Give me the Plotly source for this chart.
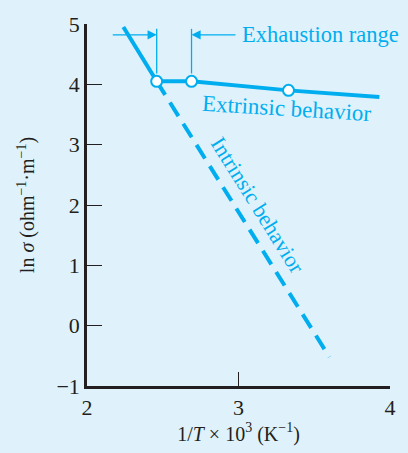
import plotly.graph_objects as go

# Data
intrinsic_solid_x = [2.24, 2.46]
intrinsic_solid_y = [4.95, 4.05]
intrinsic_dash_x = [2.46, 3.60]
intrinsic_dash_y = [4.05, -0.52]
extrinsic_x = [2.46, 2.69, 3.33, 3.93]
extrinsic_y = [4.05, 4.05, 3.90, 3.79]
marker_x = [2.46, 2.69, 3.33]
marker_y = [4.05, 4.05, 3.90]
x_ticks = [2, 3, 4]
y_ticks = [-1, 0, 1, 2, 3, 4, 5]

# Exhaustion range bracket
bracket_x = [2.46, 2.69]
bracket_y_top = 4.92
bracket_y_bot = 4.18
arrow_y = 4.82
arrow_left_tail = 2.16
arrow_right_tail = 2.99

CYAN = "#00aeef"
BG = "#dff2fb"
INK = "#231f20"
SERIF = "Liberation Serif, Times New Roman, serif"

fig = go.Figure()
fig.add_trace(go.Scatter(x=intrinsic_solid_x, y=intrinsic_solid_y, mode="lines",
                         line=dict(color=CYAN, width=4), showlegend=False, cliponaxis=False))
fig.add_trace(go.Scatter(x=intrinsic_dash_x, y=intrinsic_dash_y, mode="lines",
                         line=dict(color=CYAN, width=4, dash="16px,9px"), showlegend=False))
fig.add_trace(go.Scatter(x=extrinsic_x, y=extrinsic_y, mode="lines",
                         line=dict(color=CYAN, width=4), showlegend=False))
fig.add_trace(go.Scatter(x=marker_x, y=marker_y, mode="markers",
                         marker=dict(size=11, color="white", line=dict(color=CYAN, width=2)),
                         showlegend=False))

# bracket vertical lines
for bx in bracket_x:
    fig.add_shape(type="line", x0=bx, x1=bx, y0=bracket_y_bot, y1=bracket_y_top,
                  xref="x", yref="y", line=dict(color=CYAN, width=1.3))

fig.add_annotation(x=bracket_x[0], y=arrow_y, ax=arrow_left_tail, ay=arrow_y,
                   xref="x", yref="y", axref="x", ayref="y", text="",
                   showarrow=True, arrowhead=2, arrowsize=1.4, arrowwidth=1.3,
                   arrowcolor=CYAN, standoff=0)
fig.add_annotation(x=bracket_x[1], y=arrow_y, ax=arrow_right_tail, ay=arrow_y,
                   xref="x", yref="y", axref="x", ayref="y", text="",
                   showarrow=True, arrowhead=2, arrowsize=1.4, arrowwidth=1.3,
                   arrowcolor=CYAN, standoff=0)
fig.add_annotation(x=3.01, y=arrow_y, text="Exhaustion range", xanchor="left", yanchor="middle",
                   showarrow=False, font=dict(family=SERIF, size=22.5, color=CYAN))
fig.add_annotation(x=3.32, y=3.6, text="Extrinsic behavior", textangle=3.5,
                   showarrow=False, font=dict(family=SERIF, size=23, color=CYAN))
fig.add_annotation(x=3.13, y=2.0, text="Intrinsic behavior", textangle=58,
                   showarrow=False, font=dict(family=SERIF, size=22, color=CYAN))

fig.update_layout(
    width=408, height=453,
    margin=dict(l=87, r=12, t=16, b=64),
    paper_bgcolor=BG, plot_bgcolor=BG,
    font=dict(family=SERIF, size=22, color=INK),
    xaxis=dict(range=[2, 4], tickvals=x_ticks, ticks="inside", ticklen=14, tickwidth=1.3,
               tickcolor=INK, showline=True, linecolor=INK, linewidth=2.5, showgrid=False,
               zeroline=False, tickfont=dict(size=22),
               title=dict(text="1/<i>T</i> × 10<sup>3</sup> (K<sup>−1</sup>)",
                          standoff=7, font=dict(size=20))),
    yaxis=dict(range=[-1, 5], tickvals=y_ticks, ticks="inside", ticklen=15, tickwidth=1.3,
               tickcolor=INK, showline=True, linecolor=INK, linewidth=2.5, showgrid=False,
               zeroline=False, tickfont=dict(size=22),
               title=dict(text="ln <i>σ</i> (ohm<sup>−1</sup>·m<sup>−1</sup>)",
                          standoff=17, font=dict(size=20))),
)

fig.write_html("out.html", config={"displayModeBar": False},
               post_script="document.body.style.margin='0';document.body.style.padding='0';")
